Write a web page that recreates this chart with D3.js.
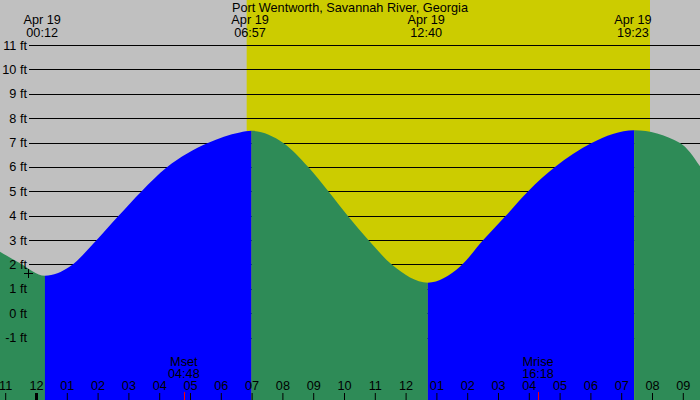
<!DOCTYPE html>
<html>
<head>
<meta charset="utf-8">
<script src="https://cdn.jsdelivr.net/npm/d3@7/dist/d3.min.js"></script>
<style>
  html, body { margin: 0; padding: 0; background: #fff; }
  svg { display: block; }
  text { font-family: "Liberation Sans", Arial, sans-serif; font-size: 12.7px; fill: #000; }
</style>
</head>
<body>
<svg id="chart" width="700" height="400"></svg>
<script>
// ---- data (hours from midnight Apr 19) ----
const title = "Port Wentworth, Savannah River, Georgia";
const tideHours   = [-1.17, -0.52, 0.29, 1.10, 1.97, 2.66, 3.43, 4.24, 5.58, 6.62, 7.0, 8.03, 8.84, 9.49, 10.14, 10.79, 11.57, 12.72, 13.77, 14.52, 15.23, 15.98, 16.85, 18.04, 19.42, 20.91, 21.56];
const tideHeights = [2.52, 2.05, 1.53, 1.91, 3.0, 3.96, 5.0, 5.97, 6.98, 7.41, 7.48, 6.98, 5.99, 5.0, 3.96, 3.0, 1.97, 1.25, 1.91, 3.0, 3.96, 5.0, 5.99, 6.98, 7.5, 6.98, 6.02];
const turnHours     = [0.29, 7.0, 12.72, 19.42];      // where the fill colour changes
const extremeHours  = [0.2, 6.95, 12.667, 19.383];    // label positions
const extremeLabels = ["00:12", "06:57", "12:40", "19:23"];
const extremeDate   = "Apr 19";
const sunriseHour = 6.84, sunsetHour = 19.935;
const moonHours  = [4.8, 16.3];
const moonNames  = ["Mset", "Mrise"];
const moonLabels = ["04:48", "16:18"];
const feetTicks  = [-1, 0, 1, 2, 3, 4, 5, 6, 7, 8, 9, 10, 11];
const hourTicks  = d3.range(-1, 22);
const hourLabels = ["11","12","01","02","03","04","05","06","07","08","09","10","11","12","01","02","03","04","05","06","07","08","09"];
const markerHour = -0.25, markerHeight = 1.63;

// ---- layout ----
const W = 700, H = 400;
const svg = d3.select("#chart");
const x = d3.scaleLinear().domain([0, 21]).range([36, 36 + 21 * 30.8]);
const y = d3.scaleLinear().domain([-1, 11]).range([337.5, 45]);

// background
svg.append("rect").attr("width", W).attr("height", H).attr("fill", "#c0c0c0");
svg.append("rect")
  .attr("x", x(sunriseHour)).attr("y", 0)
  .attr("width", x(sunsetHour) - x(sunriseHour)).attr("height", H)
  .attr("fill", "#cccc00");

// grid lines
svg.append("g").selectAll("line").data(feetTicks).join("line")
  .attr("x1", 29).attr("x2", W)
  .attr("y1", d => Math.round(y(d)) + 0.5).attr("y2", d => Math.round(y(d)) + 0.5)
  .attr("stroke", "#000").attr("stroke-width", 1);

// tide area split into rising (blue) / falling (green)
const pts = tideHours.map((h, i) => [h, tideHeights[i]]);
const area = d3.area().curve(d3.curveMonotoneX)
  .x(d => x(d[0])).y0(H).y1(d => y(d[1]));
const bounds = [x.invert(0)].concat(turnHours, [x.invert(W)]);
const defs = svg.append("defs");
for (let i = 0; i < bounds.length - 1; i++) {
  const id = "clip" + i;
  defs.append("clipPath").attr("id", id).append("rect")
    .attr("x", x(bounds[i])).attr("y", 0)
    .attr("width", x(bounds[i + 1]) - x(bounds[i])).attr("height", H);
  svg.append("path").datum(pts)
    .attr("d", area)
    .attr("clip-path", `url(#${id})`)
    .attr("fill", i % 2 === 0 ? "#2e8b57" : "#0000ff");
}

// y labels
svg.append("g").selectAll("text").data(feetTicks).join("text")
  .attr("x", 27).attr("y", d => y(d) + 4.5)
  .attr("text-anchor", "end")
  .text(d => d + " ft");

// title
svg.append("text").attr("x", 350).attr("y", 11.5).attr("text-anchor", "middle").text(title);

// extreme labels
const ex = svg.append("g").selectAll("g").data(extremeHours).join("g");
ex.append("text").attr("x", d => x(d)).attr("y", 24).attr("text-anchor", "middle").text(extremeDate);
ex.append("text").attr("x", d => x(d)).attr("y", 36.5).attr("text-anchor", "middle").text((d, i) => extremeLabels[i]);

// bottom hour axis
const axis = d3.axisBottom(x).tickValues(hourTicks).tickSize(7).tickFormat((d, i) => hourLabels[i]);
const ag = svg.append("g").attr("transform", "translate(0,393)").call(axis);
ag.select(".domain").remove();
ag.selectAll(".tick line").attr("stroke", "#000")
  .attr("stroke-width", d => d === 0 ? 3 : 1);
ag.selectAll(".tick text").attr("y", -3).attr("dy", 0)
  .attr("font-family", null).attr("font-size", null).attr("fill", "#000");

// moon events
const mg = svg.append("g").selectAll("g").data(moonHours).join("g");
mg.append("line")
  .attr("x1", d => Math.round(x(d)) + 0.5).attr("x2", d => Math.round(x(d)) + 0.5)
  .attr("y1", 392).attr("y2", H).attr("stroke", "#ff0000").attr("stroke-width", 1);
mg.append("text").attr("x", d => x(d)).attr("y", 365.5).attr("text-anchor", "middle").text((d, i) => moonNames[i]);
mg.append("text").attr("x", d => x(d)).attr("y", 378).attr("text-anchor", "middle").text((d, i) => moonLabels[i]);

// marker cross
const mx = Math.round(x(markerHour)) + 0.5, my = Math.round(y(markerHeight)) + 0.5;
svg.append("path")
  .attr("d", `M${mx - 4.5},${my}H${mx + 4.5}M${mx},${my - 4.5}V${my + 4.5}`)
  .attr("stroke", "#000").attr("stroke-width", 1).attr("fill", "none");
</script>
</body>
</html>
